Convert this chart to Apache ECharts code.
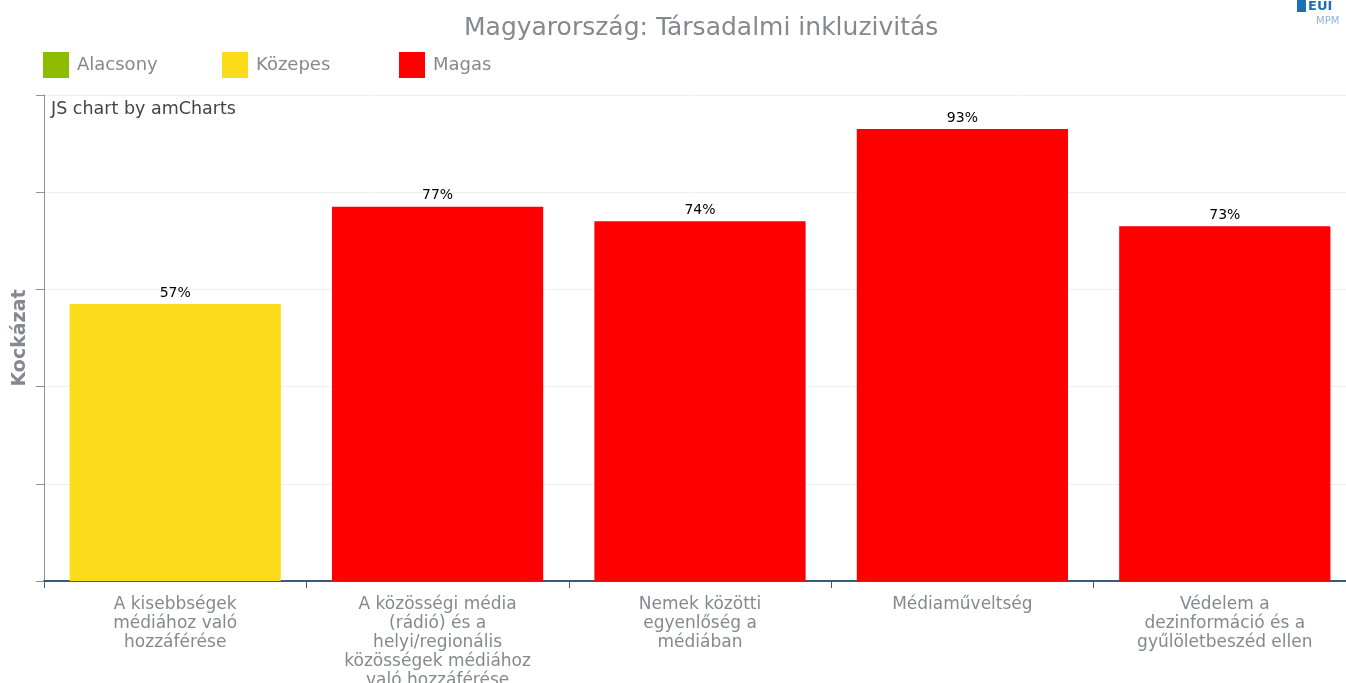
<!DOCTYPE html>
<html>
<head>
<meta charset="utf-8">
<script src="https://cdn.jsdelivr.net/npm/echarts@6/dist/echarts.min.js"></script>
<style>
  html, body { margin: 0; padding: 0; background: #fff; }
  #chart { width: 1346px; height: 683px; }
</style>
</head>
<body>
<div id="chart"></div>
<script>
// kategóriák és értékek
const categories = [
  'A kisebbségek\nmédiához való\nhozzáférése',
  'A közösségi média\n(rádió) és a\nhelyi/regionális\nközösségek médiához\nvaló hozzáférése',
  'Nemek közötti\negyenlőség a\nmédiában',
  'Médiaműveltség',
  'Védelem a\ndezinformáció és a\ngyűlöletbeszéd ellen'
]
const values = [57, 77, 74, 93, 73]
const riskLevels = ['Közepes', 'Magas', 'Magas', 'Magas', 'Magas']
const levelNames = ['Alacsony', 'Közepes', 'Magas']
const levelColors = ['#8cbb00', '#fcdb1b', '#ff0000']
const yTicks = [0, 20, 40, 60, 80, 100]

const font = 'DejaVu Sans, Verdana, sans-serif'
const grey = '#84898f'

// egy sorozat kockázati szintenként, a többi helyen üres
function levelSeries(level, i) {
  return {
    name: level,
    type: 'bar',
    stack: 'risk',
    barCategoryGap: '19.5%',
    itemStyle: { color: levelColors[i] },
    label: {
      show: true,
      position: 'top',
      distance: 4,
      color: '#000',
      fontFamily: font,
      fontSize: 14,
      formatter: p => p.value + '%'
    },
    data: values.map((v, k) => (riskLevels[k] === level ? v : '-'))
  }
}

// külön legenda minden szinthez, hogy a távolság egyezzen
const legendLeft = [38, 217, 394]
const legends = levelNames.map((n, i) => ({
  data: [n],
  left: legendLeft[i],
  top: 47,
  itemWidth: 26,
  itemHeight: 26,
  itemGap: 0,
  icon: 'rect',
  selectedMode: false,
  textStyle: { color: grey, fontFamily: font, fontSize: 18, padding: [0, 0, 0, 3] }
}))

const chart = echarts.init(document.getElementById('chart'))
chart.setOption({
  animation: false,
  title: {
    text: 'Magyarország: Társadalmi inkluzivitás',
    left: 459,
    top: 11,
    textStyle: { color: grey, fontFamily: font, fontSize: 25, fontWeight: 'normal' }
  },
  legend: legends,
  grid: { left: 44, width: 1312, top: 95, bottom: 102, containLabel: false, outerBoundsMode: 'none' },
  xAxis: {
    type: 'category',
    data: categories,
    axisLine: { lineStyle: { color: '#3d5a74', width: 2 } },
    axisTick: { show: true, length: 7, lineStyle: { color: '#3d5a74' } },
    axisLabel: {
      color: grey,
      fontFamily: font,
      fontSize: 17,
      lineHeight: 19,
      margin: 14,
      interval: 0
    }
  },
  yAxis: {
    type: 'value',
    min: yTicks[0],
    max: yTicks[yTicks.length - 1],
    interval: 20,
    name: 'Kockázat',
    nameLocation: 'middle',
    nameGap: 14,
    nameTextStyle: { color: grey, fontFamily: font, fontSize: 19, fontWeight: 'bold' },
    axisLine: { show: true, lineStyle: { color: '#8c9197', width: 1 } },
    axisTick: { show: true, length: 8, lineStyle: { color: '#8c9197' } },
    axisLabel: { show: false },
    splitLine: { lineStyle: { color: '#f0f0f0' } }
  },
  graphic: [
    {
      type: 'text', left: 51, top: 100,
      style: { text: 'JS chart by amCharts', fill: '#444', font: '17.5px ' + font }
    },
    {
      type: 'rect', left: 1297, top: 0,
      shape: { width: 9, height: 12 },
      style: { fill: '#1d6fb8' }
    },
    {
      type: 'text', left: 1308, top: 0,
      style: { text: 'EUI', fill: '#1d6fb8', font: 'bold 13px ' + font }
    },
    {
      type: 'text', left: 1316, top: 16,
      style: { text: 'MPM', fill: '#8fb5dc', font: '10px ' + font }
    }
  ],
  series: levelNames.map(levelSeries)
})
</script>
</body>
</html>
